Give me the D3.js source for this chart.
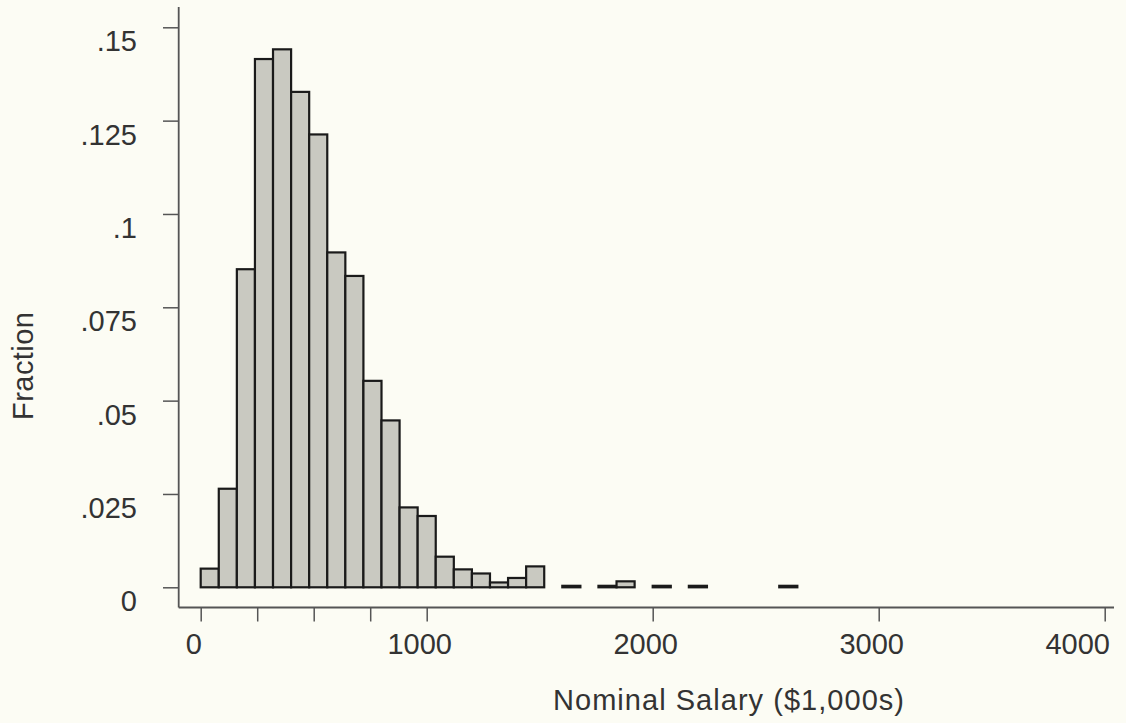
<!DOCTYPE html>
<html>
<head>
<meta charset="utf-8">
<script src="https://cdn.jsdelivr.net/npm/d3@7"></script>
<style>
  html, body { margin: 0; padding: 0; background: #fcfcf4; }
  svg { display: block; }
  text { font-family: "Liberation Sans", Arial, Helvetica, sans-serif; fill: #333; }
</style>
</head>
<body>
<svg id="chart" width="1126" height="723"></svg>
<script>
// ---- data ----
const binWidth = 80;
const binStarts = [0, 80, 160, 240, 320, 400, 480, 560, 640, 720, 800, 880, 960, 1040, 1120, 1200, 1280, 1360, 1440,
                   1600, 1760, 1840, 2000, 2160, 2560];
const fractions = [0.0050, 0.0264, 0.0852, 0.1415, 0.1441, 0.1327, 0.1213, 0.0897, 0.0834, 0.0553, 0.0447, 0.0214,
                   0.0191, 0.0082, 0.0048, 0.0037, 0.0013, 0.0025, 0.0056,
                   0.0004, 0.0004, 0.0016, 0.0004, 0.0004, 0.0004];
const yTicks = [0, 0.025, 0.05, 0.075, 0.1, 0.125, 0.15];
const yTickLabels = ["0", ".025", ".05", ".075", ".1", ".125", ".15"];
const xTicks = [0, 250, 500, 750, 1000, 2000, 3000, 4000];
const xLabelValues = [0, 1000, 2000, 3000, 4000];
const xLabelTexts = ["0", "1000", "2000", "3000", "4000"];
const xTitle = "Nominal Salary ($1,000s)";
const yTitle = "Fraction";

// ---- layout ----
const svg = d3.select("#chart");
const x = d3.scaleLinear().domain([0, 4000]).range([200.7, 1104.7]);
const y = d3.scaleLinear().domain([0, 0.15]).range([587.3, 27.3]);
const axisColor = "#555";
const fontSize = 29;

// bars
svg.append("g").selectAll("rect")
  .data(binStarts.map((s, i) => ({ s, v: fractions[i] })))
  .join("rect")
  .attr("x", d => x(d.s))
  .attr("width", d => x(d.s + binWidth) - x(d.s))
  .attr("y", d => y(d.v))
  .attr("height", d => y(0) - y(d.v))
  .attr("fill", "#c9c9c1")
  .attr("stroke", "#1a1a1a")
  .attr("stroke-width", 2.2);

// y axis
const yAxisX = 178.7;
const yAxis = d3.axisLeft(y).tickValues(yTicks).tickSize(15.7).tickSizeOuter(0).tickFormat("");
const gy = svg.append("g").attr("transform", `translate(${yAxisX},0)`).call(yAxis);
gy.select(".domain").remove();
gy.selectAll(".tick line").attr("stroke", axisColor).attr("stroke-width", 1.5);
svg.append("line").attr("x1", yAxisX).attr("x2", yAxisX).attr("y1", 7).attr("y2", 607.5)
  .attr("stroke", axisColor).attr("stroke-width", 1.8);
svg.append("g").selectAll("text").data(yTicks).join("text")
  .attr("x", 137).attr("y", d => y(d) + 24)
  .attr("text-anchor", "end").attr("font-size", fontSize)
  .text((d, i) => yTickLabels[i]);

// x axis
const xAxisY = 607.5;
const xAxis = d3.axisBottom(x).tickValues(xTicks).tickSize(14).tickSizeOuter(0).tickFormat("");
const gx = svg.append("g").attr("transform", `translate(0,${xAxisY})`).call(xAxis);
gx.select(".domain").remove();
gx.selectAll(".tick line").attr("stroke", axisColor).attr("stroke-width", 1.5);
svg.append("line").attr("x1", yAxisX).attr("x2", 1114).attr("y1", xAxisY).attr("y2", xAxisY)
  .attr("stroke", axisColor).attr("stroke-width", 1.8);
svg.append("g").selectAll("text").data(xLabelValues).join("text")
  .attr("x", (d, i) => i === xLabelValues.length - 1 ? x(d) - 27 : x(d) - 7)
  .attr("y", 654)
  .attr("text-anchor", "middle").attr("font-size", fontSize)
  .text((d, i) => xLabelTexts[i]);

// titles
svg.append("text").attr("x", 553).attr("y", 710).attr("font-size", fontSize)
  .attr("textLength", 351).attr("lengthAdjust", "spacing").text(xTitle);
svg.append("text").attr("transform", "translate(33,366) rotate(-90)")
  .attr("text-anchor", "middle").attr("font-size", fontSize)
  .attr("textLength", 108).attr("lengthAdjust", "spacing").text(yTitle);
</script>
</body>
</html>
